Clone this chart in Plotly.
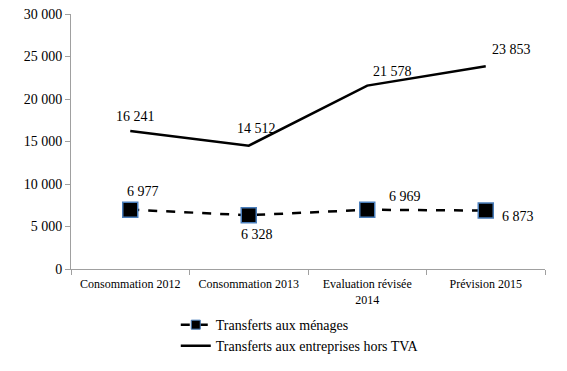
import plotly.graph_objects as go

categories = ["Consommation 2012", "Consommation 2013", "Evaluation révisée<br>2014", "Prévision 2015"]
menages = [6977, 6328, 6969, 6873]
entreprises = [16241, 14512, 21578, 23853]
y_ticks = [0, 5000, 10000, 15000, 20000, 25000, 30000]
y_tick_labels = ["0", "5 000", "10 000", "15 000", "20 000", "25 000", "30 000"]

FONT = "Liberation Serif, DejaVu Serif, serif"

def fmt(v):
    return f"{v:,}".replace(",", " ")

x = list(range(len(categories)))

fig = go.Figure()
fig.add_trace(go.Scatter(
    x=x, y=menages, mode="lines+markers", name="Transferts aux ménages",
    line=dict(color="black", width=2.5, dash="dash"),
    marker=dict(symbol="square", size=15, color="black", line=dict(color="#4a7ebb", width=1.5)),
    showlegend=False,
))
fig.add_trace(go.Scatter(
    x=x, y=entreprises, mode="lines", name="Transferts aux entreprises hors TVA",
    line=dict(color="black", width=2.5), showlegend=False,
))
# legend entries (smaller marker like the reference)
fig.add_trace(go.Scatter(
    x=[None], y=[None], mode="lines+markers", name="Transferts aux ménages",
    line=dict(color="black", width=2.5, dash="dash"),
    marker=dict(symbol="square", size=9, color="black", line=dict(color="#4a7ebb", width=1)),
))
fig.add_trace(go.Scatter(
    x=[None], y=[None], mode="lines", name="Transferts aux entreprises hors TVA",
    line=dict(color="black", width=2.5),
))

ent_shift = [(5, 14), (8, 17), (25, 14), (26, 17)]
men_shift = [(13, 18), (8, -19), (38, 13), (32, -6)]
for i, v in enumerate(entreprises):
    fig.add_annotation(x=x[i], y=v, text=fmt(v), showarrow=False,
                       xshift=ent_shift[i][0], yshift=ent_shift[i][1],
                       font=dict(family=FONT, size=14, color="black"))
for i, v in enumerate(menages):
    fig.add_annotation(x=x[i], y=v, text=fmt(v), showarrow=False,
                       xshift=men_shift[i][0], yshift=men_shift[i][1],
                       font=dict(family=FONT, size=14, color="black"))

fig.update_layout(
    width=567, height=371,
    margin=dict(l=71, r=22, t=14, b=102, autoexpand=False),
    paper_bgcolor="white", plot_bgcolor="white",
    font=dict(family=FONT, size=13, color="black"),
    showlegend=True,
    legend=dict(xref="container", yref="container", x=0.310, y=0.167,
                xanchor="left", yanchor="top",
                font=dict(family=FONT, size=14), tracegroupgap=0,
                bgcolor="rgba(0,0,0,0)"),
)
fig.update_xaxes(
    range=[-0.5, 3.5], tickvals=x, ticktext=categories, ticks="",
    showline=True, linecolor="#a0a0a0", linewidth=1,
    showgrid=False, zeroline=False, automargin=False,
    tickfont=dict(family=FONT, size=12), ticklabelstandoff=4,
    minor=dict(tickvals=[-0.5, 0.5, 1.5, 2.5, 3.5], ticks="outside", ticklen=5,
               tickcolor="#a0a0a0", showgrid=False),
)
fig.update_yaxes(
    range=[0, 30000], tickvals=y_ticks, ticktext=y_tick_labels,
    ticks="outside", ticklen=5, tickcolor="#a0a0a0",
    showline=True, linecolor="#a0a0a0", linewidth=1,
    showgrid=False, zeroline=False, automargin=False,
    tickfont=dict(family=FONT, size=14),
)

fig.write_html(
    "out.html",
    config={"displayModeBar": False},
    post_script=(
        "document.body.style.margin='0';"
        "document.body.style.overflow='hidden';"
        "document.documentElement.style.overflow='hidden';"
    ),
)
